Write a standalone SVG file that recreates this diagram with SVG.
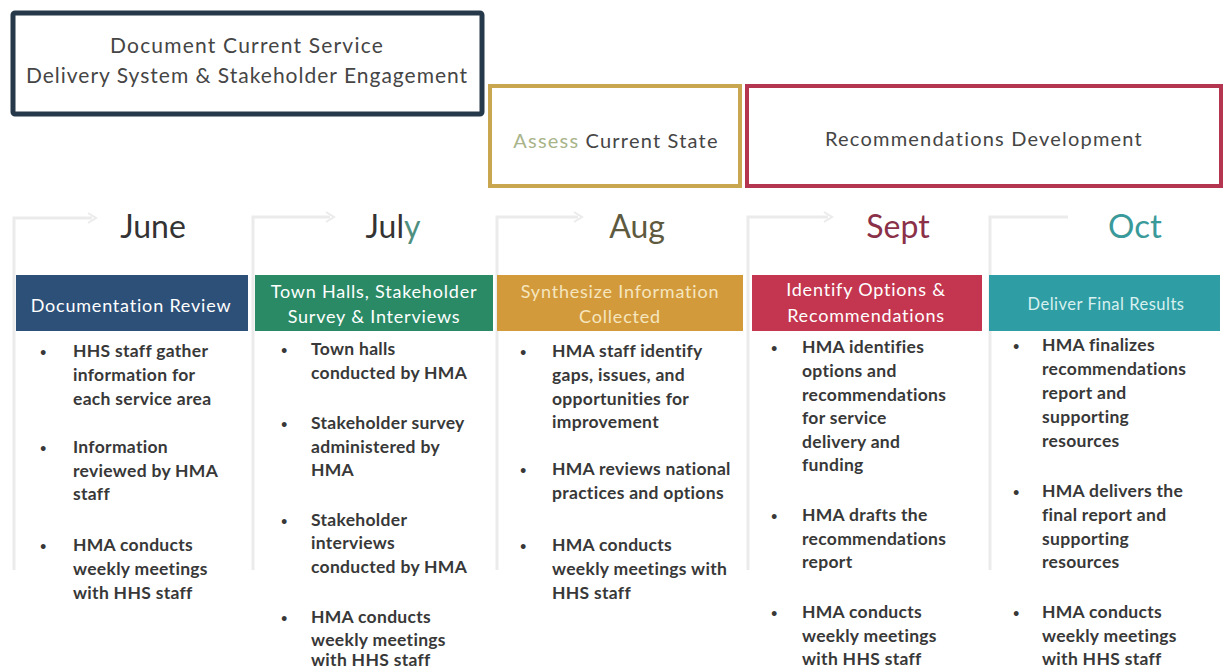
<svg xmlns="http://www.w3.org/2000/svg" width="1224" height="669" viewBox="0 0 1224 669">
<style>
.bg{fill:#ffffff}
.panel{fill:none;stroke:#ebebeb;stroke-width:3}
.ptxt{font-family:Lato,"Open Sans",sans-serif;font-size:20px;letter-spacing:1.2px;fill:#454545;text-anchor:middle}
.month{font-family:Lato,"Open Sans",sans-serif;font-size:32px;text-anchor:middle}
.htxt{font-family:Lato,"Open Sans",sans-serif;font-size:18px;letter-spacing:0.8px;fill:#ffffff;text-anchor:middle}
.b{font-family:Lato,"Open Sans",sans-serif;font-size:17.5px;letter-spacing:0.3px;font-weight:700;fill:#383838}
.d{font-size:11px}
</style>
<rect class="bg" x="0" y="0" width="1224" height="669"/>

<g id="connectors">
<path class="panel" d="M14,570 V218 H92"/><path d="M88,213 L96,218 L88,223" fill="none" stroke="#ebebeb" stroke-width="2"/>
<path class="panel" d="M253,570 V217 H330"/><path d="M326,212 L334,217 L326,222" fill="none" stroke="#ebebeb" stroke-width="2"/>
<path class="panel" d="M497,570 V217 H578"/><path d="M574,212 L582,217 L574,222" fill="none" stroke="#ebebeb" stroke-width="2"/>
<path class="panel" d="M748,570 V217 H828"/><path d="M824,212 L832,217 L824,222" fill="none" stroke="#ebebeb" stroke-width="2"/>
<path class="panel" d="M990,570 V217 H1068"/>
</g>

<g id="phase-document">
<rect x="13" y="13" width="469" height="101" fill="#fff" stroke="#26394b" stroke-width="5" rx="2"/>
<text class="ptxt" x="247" y="53" style="font-size:21px;letter-spacing:1.2px">Document Current Service</text>
<text class="ptxt" x="247" y="83" style="font-size:21px;letter-spacing:1px">Delivery System &amp; Stakeholder Engagement</text>
</g>

<g id="phase-assess">
<rect x="490" y="86" width="250" height="100" fill="#fff" stroke="#c9a650" stroke-width="4"/>
<text class="ptxt" x="616" y="148"><tspan fill="#a9b48a">Assess</tspan> Current State</text>
</g>

<g id="phase-recommend">
<rect x="747" y="86" width="474" height="100" fill="#fff" stroke="#b3354f" stroke-width="4"/>
<text class="ptxt" x="984" y="146">Recommendations Development</text>
</g>

<g id="col-june">
<text class="month" x="153" y="238" fill="#333">June</text>
<rect x="16" y="275" width="232" height="56" fill="#2d5078"/>
<text class="htxt" x="131" y="312">Documentation Review</text>
<text class="b"><tspan class="d" x="40" y="356">•</tspan><tspan x="73" y="357">HHS staff gather</tspan><tspan x="73" y="381">information for</tspan><tspan x="73" y="405">each service area</tspan></text>
<text class="b"><tspan class="d" x="40" y="452">•</tspan><tspan x="73" y="453">Information</tspan><tspan x="73" y="477">reviewed by HMA</tspan><tspan x="73" y="500">staff</tspan></text>
<text class="b"><tspan class="d" x="40" y="550">•</tspan><tspan x="73" y="551">HMA conducts</tspan><tspan x="73" y="575">weekly meetings</tspan><tspan x="73" y="599">with HHS staff</tspan></text>
</g>

<g id="col-july">
<text class="month" x="393" y="238" fill="#333">Jul<tspan fill="#4f8f80">y</tspan></text>
<rect x="255" y="275" width="238" height="56" fill="#2a8a66"/>
<text class="htxt" x="374" y="298">Town Halls, Stakeholder</text>
<text class="htxt" x="374" y="323">Survey &amp; Interviews</text>
<text class="b"><tspan class="d" x="281" y="354">•</tspan><tspan x="311" y="355">Town halls</tspan><tspan x="311" y="379">conducted by HMA</tspan></text>
<text class="b"><tspan class="d" x="281" y="428">•</tspan><tspan x="311" y="429">Stakeholder survey</tspan><tspan x="311" y="453">administered by</tspan><tspan x="311" y="476">HMA</tspan></text>
<text class="b"><tspan class="d" x="281" y="525">•</tspan><tspan x="311" y="526">Stakeholder</tspan><tspan x="311" y="549">interviews</tspan><tspan x="311" y="573">conducted by HMA</tspan></text>
<text class="b"><tspan class="d" x="281" y="622">•</tspan><tspan x="311" y="623">HMA conducts</tspan><tspan x="311" y="646">weekly meetings</tspan><tspan x="311" y="666">with HHS staff</tspan></text>
</g>

<g id="col-aug">
<text class="month" x="637" y="238" fill="#5e5a40">Aug</text>
<rect x="497" y="275" width="246" height="56" fill="#d39a3c"/>
<text class="htxt" x="620" y="298" style="fill:#f5e6bf">Synthesize Information</text>
<text class="htxt" x="620" y="323" style="fill:#f5e6bf">Collected</text>
<text class="b"><tspan class="d" x="520" y="356">•</tspan><tspan x="552" y="357">HMA staff identify</tspan><tspan x="552" y="381">gaps, issues, and</tspan><tspan x="552" y="405">opportunities for</tspan><tspan x="552" y="428">improvement</tspan></text>
<text class="b"><tspan class="d" x="520" y="474">•</tspan><tspan x="552" y="475">HMA reviews national</tspan><tspan x="552" y="499">practices and options</tspan></text>
<text class="b"><tspan class="d" x="520" y="550">•</tspan><tspan x="552" y="551">HMA conducts</tspan><tspan x="552" y="575">weekly meetings with</tspan><tspan x="552" y="599">HHS staff</tspan></text>
</g>

<g id="col-sept">
<text class="month" x="898" y="238" fill="#8a3048">Sept</text>
<rect x="752" y="275" width="230" height="56" fill="#c4364f"/>
<text class="htxt" x="866" y="296">Identify Options &amp;</text>
<text class="htxt" x="866" y="322">Recommendations</text>
<text class="b"><tspan class="d" x="771" y="352">•</tspan><tspan x="802" y="353">HMA identifies</tspan><tspan x="802" y="377">options and</tspan><tspan x="802" y="401">recommendations</tspan><tspan x="802" y="424">for service</tspan><tspan x="802" y="448">delivery and</tspan><tspan x="802" y="471">funding</tspan></text>
<text class="b"><tspan class="d" x="771" y="520">•</tspan><tspan x="802" y="521">HMA drafts the</tspan><tspan x="802" y="545">recommendations</tspan><tspan x="802" y="568">report</tspan></text>
<text class="b"><tspan class="d" x="771" y="617">•</tspan><tspan x="802" y="618">HMA conducts</tspan><tspan x="802" y="642">weekly meetings</tspan><tspan x="802" y="665">with HHS staff</tspan></text>
</g>

<g id="col-oct">
<text class="month" x="1135" y="238" fill="#3a9a9a" style="font-size:33px">Oct</text>
<rect x="989" y="275" width="231" height="56" fill="#2f9ea4"/>
<text class="htxt" x="1106" y="310" style="fill:#d8f0f0;font-size:16.5px;letter-spacing:0.5px">Deliver Final Results</text>
<text class="b"><tspan class="d" x="1013" y="350">•</tspan><tspan x="1042" y="351">HMA finalizes</tspan><tspan x="1042" y="375">recommendations</tspan><tspan x="1042" y="399">report and</tspan><tspan x="1042" y="423">supporting</tspan><tspan x="1042" y="447">resources</tspan></text>
<text class="b"><tspan class="d" x="1013" y="496">•</tspan><tspan x="1042" y="497">HMA delivers the</tspan><tspan x="1042" y="521">final report and</tspan><tspan x="1042" y="545">supporting</tspan><tspan x="1042" y="568">resources</tspan></text>
<text class="b"><tspan class="d" x="1013" y="617">•</tspan><tspan x="1042" y="618">HMA conducts</tspan><tspan x="1042" y="642">weekly meetings</tspan><tspan x="1042" y="665">with HHS staff</tspan></text>
</g>
</svg>
